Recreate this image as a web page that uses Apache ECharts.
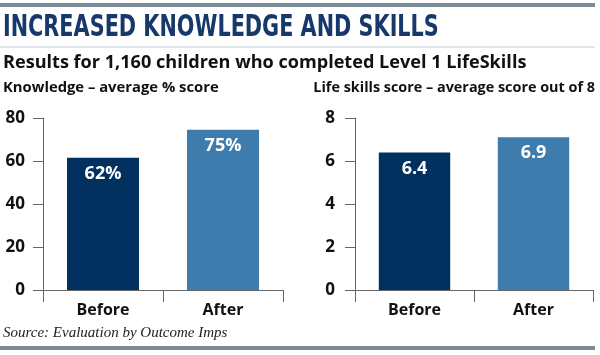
<!DOCTYPE html>
<html><head><meta charset="utf-8">
<script src="https://cdn.jsdelivr.net/npm/echarts@6/dist/echarts.min.js"></script>
<style>html,body{margin:0;padding:0;background:#fff}#c{width:600px;height:355px}</style>
</head><body><div id="c"></div>
<script>
var categories = ['Before', 'After'];
var knowledgeValues = [61.5, 74.5];
var knowledgeLabels = ['62%', '75%'];
var skillsValues = [6.4, 7.1];
var skillsLabels = ['6.4', '6.9'];
var barColors = ['#02305f', '#3e7cad'];

var chart = echarts.init(document.getElementById('c'), null, {renderer: 'canvas'});
var sans = '"Open Sans", sans-serif';
function yAxis(max, interval, margin) {
  return {
    type: 'value', min: 0, max: max, interval: interval,
    axisLine: {show: true, lineStyle: {color: '#666', width: 1}},
    axisTick: {show: true, length: 10, lineStyle: {color: '#666'}},
    splitLine: {show: false},
    axisLabel: {color: '#111', fontFamily: sans, fontWeight: 'bold', fontSize: 17, margin: margin}
  };
}
function xAxis(idx) {
  return {
    type: 'category', data: categories, gridIndex: idx, boundaryGap: true,
    axisLine: {show: true, lineStyle: {color: '#666', width: 1}},
    axisTick: {show: true, length: 12, interval: 0, alignWithLabel: false, lineStyle: {color: '#666'}},
    axisLabel: {color: '#111', fontFamily: sans, fontWeight: 'bold', fontSize: 16, margin: 12}
  };
}
function barData(vals, labels) {
  return vals.map(function (v, i) {
    return {value: v, itemStyle: {color: barColors[i]}, label: {formatter: labels[i]}};
  });
}
var ya = yAxis(80, 20, 18); ya.gridIndex = 0;
var yb = yAxis(8, 2, 20); yb.gridIndex = 1;
var barLabel = {show: true, position: 'insideTop', distance: 7, color: '#fff', fontFamily: sans, fontWeight: 'bold', fontSize: 18};
chart.setOption({
  animation: false,
  grid: [
    {left: 43, right: 317, top: 118, bottom: 65},
    {left: 355, right: 7, top: 118, bottom: 65}
  ],
  xAxis: [xAxis(0), xAxis(1)],
  yAxis: [ya, yb],
  series: [
    {type: 'bar', xAxisIndex: 0, yAxisIndex: 0, barWidth: '60%', data: barData(knowledgeValues, knowledgeLabels), label: barLabel},
    {type: 'bar', xAxisIndex: 1, yAxisIndex: 1, barWidth: '60%', data: barData(skillsValues, skillsLabels), label: barLabel}
  ],
  graphic: [
    {type: 'rect', shape: {x: 0, y: 3, width: 595, height: 4}, style: {fill: '#7a8d99'}},
    {type: 'text', x: 3, y: 28, scaleX: 0.77, scaleY: 1.03, style: {text: 'INCREASED KNOWLEDGE AND SKILLS', fill: '#17386a',
      font: 'bold 30px "DejaVu Sans Condensed", sans-serif', textVerticalAlign: 'middle'}},
    {type: 'rect', shape: {x: 0, y: 46.5, width: 595, height: 1}, style: {fill: '#c5cfd8'}},
    {type: 'text', x: 3, y: 63, style: {text: 'Results for 1,160 children who completed Level 1 LifeSkills', fill: '#111',
      font: 'bold 18.1px "Open Sans", sans-serif', textVerticalAlign: 'middle'}},
    {type: 'text', x: 3, y: 88, style: {text: 'Knowledge – average % score', fill: '#111',
      font: 'bold 14.8px "Open Sans", sans-serif', textVerticalAlign: 'middle'}},
    {type: 'text', x: 595, y: 88, style: {text: 'Life skills score – average score out of 8', fill: '#111',
      font: 'bold 14.4px "Open Sans", sans-serif', textVerticalAlign: 'middle', textAlign: 'right'}},
    {type: 'text', x: 3, y: 333, style: {text: 'Source: Evaluation by Outcome Imps', fill: '#222',
      font: 'italic 15px "Liberation Serif", serif', textVerticalAlign: 'middle'}},
    {type: 'rect', shape: {x: 0, y: 346, width: 595, height: 4}, style: {fill: '#7a8d99'}}
  ]
});
</script></body></html>
